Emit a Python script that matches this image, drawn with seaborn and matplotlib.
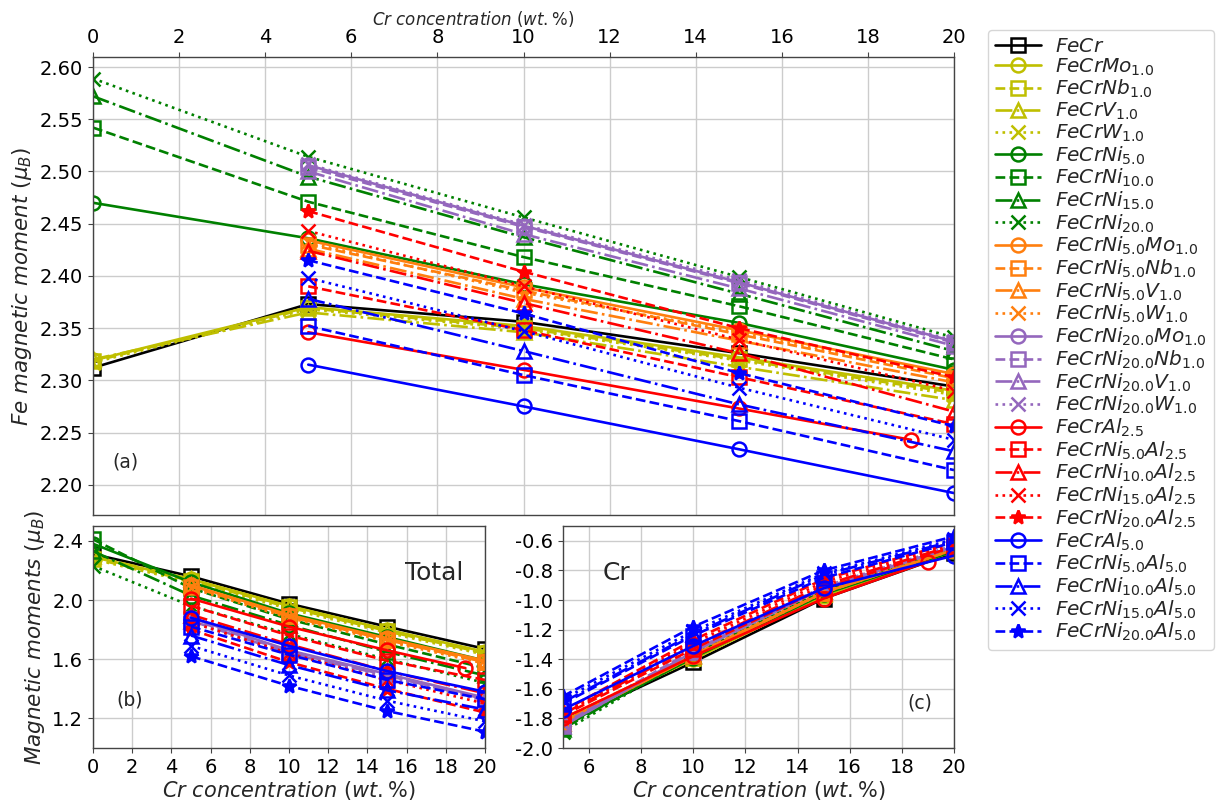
import matplotlib
matplotlib.use("Agg")
import matplotlib.pyplot as plt
import seaborn as sns

# Cr concentration grids (wt.%)
x_full = [0, 5, 10, 15, 20]
x_alloy = [5, 10, 15, 20]
x_al25 = [5, 10, 15, 19]

labels = [
    r"$FeCr$", r"$FeCrMo_{1.0}$", r"$FeCrNb_{1.0}$", r"$FeCrV_{1.0}$", r"$FeCrW_{1.0}$",
    r"$FeCrNi_{5.0}$", r"$FeCrNi_{10.0}$", r"$FeCrNi_{15.0}$", r"$FeCrNi_{20.0}$",
    r"$FeCrNi_{5.0}Mo_{1.0}$", r"$FeCrNi_{5.0}Nb_{1.0}$", r"$FeCrNi_{5.0}V_{1.0}$", r"$FeCrNi_{5.0}W_{1.0}$",
    r"$FeCrNi_{20.0}Mo_{1.0}$", r"$FeCrNi_{20.0}Nb_{1.0}$", r"$FeCrNi_{20.0}V_{1.0}$", r"$FeCrNi_{20.0}W_{1.0}$",
    r"$FeCrAl_{2.5}$", r"$FeCrNi_{5.0}Al_{2.5}$", r"$FeCrNi_{10.0}Al_{2.5}$", r"$FeCrNi_{15.0}Al_{2.5}$", r"$FeCrNi_{20.0}Al_{2.5}$",
    r"$FeCrAl_{5.0}$", r"$FeCrNi_{5.0}Al_{5.0}$", r"$FeCrNi_{10.0}Al_{5.0}$", r"$FeCrNi_{15.0}Al_{5.0}$", r"$FeCrNi_{20.0}Al_{5.0}$",
]

# (a) Fe magnetic moment (mu_B)
fe_FeCr = [2.312, 2.373, 2.356, 2.326, 2.294]
fe_Mo = [2.319, 2.370, 2.352, 2.322, 2.290]
fe_Nb = [2.318, 2.369, 2.350, 2.320, 2.288]
fe_V = [2.320, 2.365, 2.346, 2.313, 2.281]
fe_W = [2.317, 2.368, 2.349, 2.319, 2.286]
fe_Ni5 = [2.470, 2.436, 2.392, 2.355, 2.310]
fe_Ni10 = [2.542, 2.471, 2.418, 2.371, 2.320]
fe_Ni15 = [2.572, 2.495, 2.437, 2.383, 2.328]
fe_Ni20 = [2.589, 2.514, 2.456, 2.399, 2.341]
fe_Ni5Mo = [2.434, 2.389, 2.348, 2.306]
fe_Ni5Nb = [2.430, 2.386, 2.344, 2.302]
fe_Ni5V = [2.426, 2.378, 2.338, 2.298]
fe_Ni5W = [2.432, 2.384, 2.346, 2.304]
fe_Ni20Mo = [2.506, 2.448, 2.394, 2.337]
fe_Ni20Nb = [2.504, 2.447, 2.393, 2.336]
fe_Ni20V = [2.500, 2.440, 2.388, 2.333]
fe_Ni20W = [2.507, 2.449, 2.396, 2.338]
fe_Al25 = [2.346, 2.310, 2.273, 2.243]
fe_Ni5Al25 = [2.390, 2.348, 2.303, 2.258]
fe_Ni10Al25 = [2.424, 2.374, 2.326, 2.270]
fe_Ni15Al25 = [2.443, 2.390, 2.339, 2.290]
fe_Ni20Al25 = [2.462, 2.404, 2.350, 2.303]
fe_Al5 = [2.315, 2.275, 2.234, 2.192]
fe_Ni5Al5 = [2.352, 2.305, 2.261, 2.214]
fe_Ni10Al5 = [2.378, 2.328, 2.277, 2.232]
fe_Ni15Al5 = [2.398, 2.347, 2.293, 2.243]
fe_Ni20Al5 = [2.415, 2.364, 2.307, 2.256]

# (b) total magnetic moment per atom (mu_B)
tot_FeCr = [2.31, 2.16, 1.975, 1.82, 1.67]
tot_Mo = [2.29, 2.14, 1.96, 1.80, 1.65]
tot_Nb = [2.28, 2.13, 1.95, 1.79, 1.64]
tot_V = [2.295, 2.14, 1.955, 1.79, 1.64]
tot_W = [2.275, 2.12, 1.94, 1.78, 1.63]
tot_Ni5 = [2.38, 2.12, 1.91, 1.75, 1.59]
tot_Ni10 = [2.41, 2.08, 1.87, 1.70, 1.54]
tot_Ni15 = [2.33, 2.03, 1.83, 1.65, 1.49]
tot_Ni20 = [2.23, 1.96, 1.77, 1.60, 1.44]
tot_Ni5Mo = [2.10, 1.90, 1.74, 1.59]
tot_Ni5Nb = [2.09, 1.89, 1.73, 1.58]
tot_Ni5V = [2.10, 1.89, 1.73, 1.58]
tot_Ni5W = [2.08, 1.88, 1.72, 1.57]
tot_Ni20Mo = [1.88, 1.66, 1.50, 1.34]
tot_Ni20Nb = [1.87, 1.65, 1.49, 1.33]
tot_Ni20V = [1.86, 1.64, 1.49, 1.33]
tot_Ni20W = [1.85, 1.63, 1.48, 1.32]
tot_Al25 = [2.01, 1.82, 1.66, 1.54]
tot_Ni5Al25 = [1.96, 1.76, 1.59, 1.46]
tot_Ni10Al25 = [1.90, 1.70, 1.52, 1.37]
tot_Ni15Al25 = [1.85, 1.64, 1.46, 1.30]
tot_Ni20Al25 = [1.80, 1.58, 1.40, 1.24]
tot_Al5 = [1.88, 1.69, 1.52, 1.38]
tot_Ni5Al5 = [1.82, 1.63, 1.46, 1.33]
tot_Ni10Al5 = [1.76, 1.56, 1.39, 1.26]
tot_Ni15Al5 = [1.69, 1.49, 1.32, 1.18]
tot_Ni20Al5 = [1.62, 1.42, 1.25, 1.11]

# (c) Cr magnetic moment (mu_B)
cr_FeCr = [-1.83, -1.42, -0.99, -0.68]
cr_Mo = [-1.82, -1.40, -0.97, -0.67]
cr_Nb = [-1.81, -1.39, -0.96, -0.66]
cr_V = [-1.80, -1.38, -0.96, -0.66]
cr_W = [-1.82, -1.40, -0.97, -0.67]
cr_Ni5 = [-1.85, -1.39, -0.96, -0.67]
cr_Ni10 = [-1.86, -1.38, -0.95, -0.66]
cr_Ni15 = [-1.87, -1.37, -0.94, -0.66]
cr_Ni20 = [-1.89, -1.37, -0.93, -0.65]
cr_Ni5Mo = [-1.83, -1.38, -0.95, -0.66]
cr_Ni5Nb = [-1.82, -1.37, -0.95, -0.66]
cr_Ni5V = [-1.83, -1.38, -0.95, -0.66]
cr_Ni5W = [-1.82, -1.37, -0.94, -0.65]
cr_Ni20Mo = [-1.85, -1.35, -0.92, -0.64]
cr_Ni20Nb = [-1.84, -1.34, -0.92, -0.64]
cr_Ni20V = [-1.85, -1.35, -0.92, -0.64]
cr_Ni20W = [-1.84, -1.34, -0.91, -0.63]
cr_Al25 = [-1.80, -1.38, -0.99, -0.74]
cr_Ni5Al25 = [-1.78, -1.33, -0.92, -0.64]
cr_Ni10Al25 = [-1.77, -1.31, -0.90, -0.63]
cr_Ni15Al25 = [-1.76, -1.29, -0.88, -0.62]
cr_Ni20Al25 = [-1.75, -1.27, -0.86, -0.61]
cr_Al5 = [-1.74, -1.31, -0.92, -0.70]
cr_Ni5Al5 = [-1.70, -1.24, -0.85, -0.61]
cr_Ni10Al5 = [-1.69, -1.23, -0.83, -0.60]
cr_Ni15Al5 = [-1.67, -1.21, -0.82, -0.59]
cr_Ni20Al5 = [-1.65, -1.18, -0.80, -0.57]

# series: (colour, marker, linestyle, x for Fe/total, Fe, total, x for Cr, Cr)
series = [
    ("k", "s", "-", x_full, fe_FeCr, tot_FeCr, x_alloy, cr_FeCr),
    ("y", "o", "-", x_full, fe_Mo, tot_Mo, x_alloy, cr_Mo),
    ("y", "s", "--", x_full, fe_Nb, tot_Nb, x_alloy, cr_Nb),
    ("y", "^", "-.", x_full, fe_V, tot_V, x_alloy, cr_V),
    ("y", "x", ":", x_full, fe_W, tot_W, x_alloy, cr_W),
    ("g", "o", "-", x_full, fe_Ni5, tot_Ni5, x_alloy, cr_Ni5),
    ("g", "s", "--", x_full, fe_Ni10, tot_Ni10, x_alloy, cr_Ni10),
    ("g", "^", "-.", x_full, fe_Ni15, tot_Ni15, x_alloy, cr_Ni15),
    ("g", "x", ":", x_full, fe_Ni20, tot_Ni20, x_alloy, cr_Ni20),
    ("C1", "o", "-", x_alloy, fe_Ni5Mo, tot_Ni5Mo, x_alloy, cr_Ni5Mo),
    ("C1", "s", "--", x_alloy, fe_Ni5Nb, tot_Ni5Nb, x_alloy, cr_Ni5Nb),
    ("C1", "^", "-.", x_alloy, fe_Ni5V, tot_Ni5V, x_alloy, cr_Ni5V),
    ("C1", "x", ":", x_alloy, fe_Ni5W, tot_Ni5W, x_alloy, cr_Ni5W),
    ("C4", "o", "-", x_alloy, fe_Ni20Mo, tot_Ni20Mo, x_alloy, cr_Ni20Mo),
    ("C4", "s", "--", x_alloy, fe_Ni20Nb, tot_Ni20Nb, x_alloy, cr_Ni20Nb),
    ("C4", "^", "-.", x_alloy, fe_Ni20V, tot_Ni20V, x_alloy, cr_Ni20V),
    ("C4", "x", ":", x_alloy, fe_Ni20W, tot_Ni20W, x_alloy, cr_Ni20W),
    ("r", "o", "-", x_al25, fe_Al25, tot_Al25, x_al25, cr_Al25),
    ("r", "s", "--", x_alloy, fe_Ni5Al25, tot_Ni5Al25, x_alloy, cr_Ni5Al25),
    ("r", "^", "-.", x_alloy, fe_Ni10Al25, tot_Ni10Al25, x_alloy, cr_Ni10Al25),
    ("r", "x", ":", x_alloy, fe_Ni15Al25, tot_Ni15Al25, x_alloy, cr_Ni15Al25),
    ("r", "*", "--", x_alloy, fe_Ni20Al25, tot_Ni20Al25, x_alloy, cr_Ni20Al25),
    ("b", "o", "-", x_alloy, fe_Al5, tot_Al5, x_alloy, cr_Al5),
    ("b", "s", "--", x_alloy, fe_Ni5Al5, tot_Ni5Al5, x_alloy, cr_Ni5Al5),
    ("b", "^", "-.", x_alloy, fe_Ni10Al5, tot_Ni10Al5, x_alloy, cr_Ni10Al5),
    ("b", "x", ":", x_alloy, fe_Ni15Al5, tot_Ni15Al5, x_alloy, cr_Ni15Al5),
    ("b", "*", "--", x_alloy, fe_Ni20Al5, tot_Ni20Al5, x_alloy, cr_Ni20Al5),
]

sns.set_style("ticks")
plt.rcParams.update({
    "font.family": ["DejaVu Sans"],
    "mathtext.fontset": "dejavusans",
    "axes.unicode_minus": False,
    "axes.edgecolor": "#444444",
    "axes.linewidth": 1.0,
    "grid.color": "#cccccc",
    "grid.linewidth": 1.0,
    "xtick.color": "#444444",
    "ytick.color": "#444444",
    "xtick.labelcolor": "black",
    "ytick.labelcolor": "black",
    "xtick.labelsize": 14,
    "ytick.labelsize": 14,
})

W, H = 1229, 802
fig = plt.figure(figsize=(W / 100, H / 100), dpi=100)


def box(left, top, right, bottom):
    return [left / W, 1 - bottom / H, (right - left) / W, (bottom - top) / H]


ax_a = fig.add_axes(box(93, 57, 954, 515))
ax_b = fig.add_axes(box(93, 526, 485, 748))
ax_c = fig.add_axes(box(563, 526, 954, 748))


def draw(ax, x, y, color, marker, ls, label=None):
    face = color if marker == "*" else "none"
    sns.lineplot(x=x, y=y, ax=ax, color=color, marker=marker, linestyle=ls,
                 linewidth=1.9, markersize=10, markerfacecolor=face,
                 markeredgecolor=color, markeredgewidth=1.8,
                 label=label, legend=False)


for lab, (c, m, ls, xs, fe, tot, xc, cr) in zip(labels, series):
    draw(ax_a, xs, fe, c, m, ls, lab)
    draw(ax_b, xs, tot, c, m, ls)
    draw(ax_c, xc, cr, c, m, ls)

for ax in (ax_a, ax_b, ax_c):
    ax.grid(True)
    for sp in ax.spines.values():
        sp.set_visible(True)
    if ax.get_legend() is not None:
        ax.get_legend().remove()

# (a) Fe moments, x axis on top
ax_a.set_xlim(0, 20)
ax_a.set_ylim(2.171, 2.6096)
ax_a.set_xticks(range(0, 21, 2))
ax_a.set_yticks([2.20, 2.25, 2.30, 2.35, 2.40, 2.45, 2.50, 2.55, 2.60])
ax_a.set_yticklabels([f"{v:.2f}" for v in ax_a.get_yticks()])
ax_a.xaxis.tick_top()
ax_a.tick_params(axis="x", pad=4)
ax_a.xaxis.set_label_position("top")
ax_a.set_xlabel(r"$Cr\ concentration\ (wt.\%)$", fontsize=12)
ax_a.xaxis.set_label_coords(0.441, 1.07)
ax_a.set_ylabel(r"$Fe\ magnetic\ moment\ (\mu_B)$", fontsize=15.5)
ax_a.text(0.022, 0.116, "(a)", transform=ax_a.transAxes, fontsize=13.5, va="center")

# (b) total moments
ax_b.set_xlim(0, 20)
ax_b.set_ylim(1.0, 2.5)
ax_b.set_xticks(range(0, 21, 2))
ax_b.set_yticks([1.2, 1.6, 2.0, 2.4])
ax_b.set_xlabel(r"$Cr\ concentration\ (wt.\%)$", fontsize=15, labelpad=2)
ax_b.set_ylabel(r"$Magnetic\ moments\ (\mu_B)$", fontsize=15.5)
ax_b.text(0.059, 0.216, "(b)", transform=ax_b.transAxes, fontsize=13.5, va="center")
ax_b.text(0.796, 0.788, "Total", transform=ax_b.transAxes, fontsize=18, va="center")

# (c) Cr moments
ax_c.set_xlim(5, 20)
ax_c.set_ylim(-2.0, -0.5)
ax_c.set_xticks(range(6, 21, 2))
ax_c.set_yticks([-2.0, -1.8, -1.6, -1.4, -1.2, -1.0, -0.8, -0.6])
ax_c.set_yticklabels([f"{v:.1f}" for v in ax_c.get_yticks()])
ax_c.set_xlabel(r"$Cr\ concentration\ (wt.\%)$", fontsize=15, labelpad=2)
ax_c.set_ylabel("")
ax_c.text(0.102, 0.788, "Cr", transform=ax_c.transAxes, fontsize=18, va="center")
ax_c.text(0.882, 0.203, "(c)", transform=ax_c.transAxes, fontsize=13.5, va="center")

handles, labs = ax_a.get_legend_handles_labels()
fig.legend(handles, labs, loc="upper left", bbox_to_anchor=(988 / W, 1 - 30 / H),
           fontsize=14.5, handlelength=2.3, handletextpad=0.7, labelspacing=0.02,
           borderaxespad=0.0, borderpad=0.35, frameon=True, edgecolor="#cccccc")

fig.savefig("out.png", dpi=100)
